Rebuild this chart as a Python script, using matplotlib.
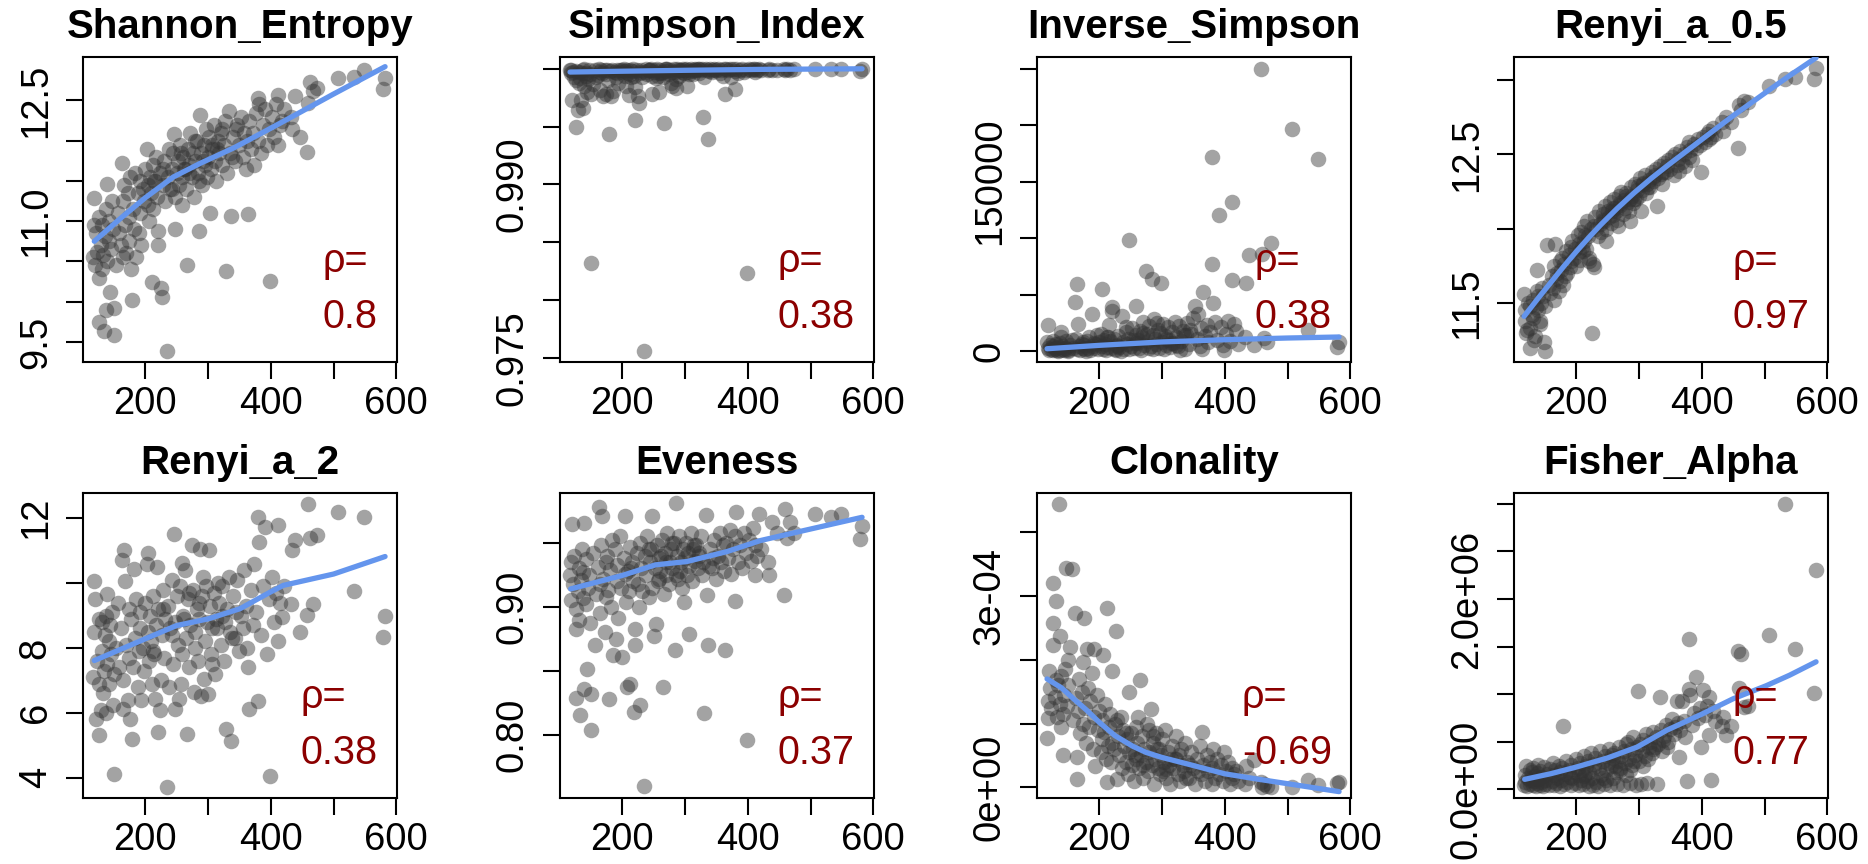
import matplotlib
matplotlib.use("Agg")
import matplotlib.pyplot as plt

plt.rcParams['font.family'] = ['Liberation Sans', 'DejaVu Sans']

# shared x (one value per sample), rows of ten
x_vals = [
    117, 118, 119, 120, 122, 124, 126, 127, 127, 129,
    131, 132, 133, 134, 136, 137, 138, 139, 140, 142,
    143, 144, 146, 147, 149, 150, 151, 154, 156, 158,
    161, 163, 164, 165, 167, 168, 170, 172, 174, 175,
    176, 178, 179, 180, 182, 184, 186, 188, 190, 191,
    192, 194, 196, 198, 200, 203, 204, 205, 206, 208,
    210, 211, 212, 213, 215, 217, 219, 220, 221, 223,
    225, 226, 228, 230, 232, 234, 236, 238, 240, 242,
    244, 246, 247, 248, 250, 252, 254, 256, 258, 259,
    261, 263, 265, 266, 268, 270, 272, 274, 276, 278,
    280, 282, 284, 285, 287, 289, 291, 293, 295, 297,
    298, 300, 302, 303, 305, 307, 309, 311, 313, 316,
    318, 320, 322, 325, 327, 329, 330, 333, 335, 337,
    340, 343, 346, 349, 352, 355, 358, 360, 362, 364,
    366, 368, 371, 374, 377, 379, 380, 382, 385, 388,
    391, 394, 397, 399, 402, 405, 408, 411, 412, 415,
    418, 421, 432, 434, 439, 446, 458, 460, 462, 468,
    214, 229, 243, 257, 269, 279, 292, 306, 323, 338,
    473, 507, 532, 549, 578, 582, 262, 286, 314, 345,
]

shannon = [
    10.55, 10.95, 11.29, 10.45, 10.85, 10.62, 10.30, 9.75, 11.05, 10.70,
    10.95, 10.40, 10.58, 9.63, 10.82, 11.15, 9.89, 11.46, 10.50, 10.75,
    11.00, 10.12, 10.65, 11.25, 10.90, 9.58, 9.92, 10.45, 11.10, 10.85,
    10.70, 11.72, 11.25, 10.55, 11.45, 10.95, 10.60, 11.35, 11.05, 10.75,
    11.55, 10.40, 10.02, 11.15, 10.90, 11.60, 10.55, 11.35, 10.85, 11.50,
    11.10, 10.70, 11.40, 11.25, 11.65, 11.90, 11.20, 11.45, 11.00, 11.55,
    11.35, 10.24, 11.70, 11.15, 11.50, 11.80, 11.30, 10.88, 10.71, 11.60,
    10.17, 10.06, 11.45, 11.75, 11.25, 9.39, 11.55, 11.90, 11.40, 11.65,
    11.85, 12.08, 11.30, 10.90, 11.60, 11.75, 11.45, 11.95, 11.55, 11.20,
    11.80, 11.65, 11.40, 10.46, 11.90, 11.70, 12.10, 11.55, 11.85, 11.30,
    11.75, 12.00, 11.60, 10.88, 12.32, 11.85, 11.45, 11.95, 11.70, 12.15,
    11.55, 11.80, 12.05, 11.10, 11.65, 11.90, 12.20, 11.75, 11.50, 12.00,
    11.85, 12.10, 11.70, 11.95, 12.25, 10.38, 11.60, 12.37, 11.85, 11.07,
    12.05, 11.75, 12.20, 11.95, 12.30, 11.80, 12.10, 11.65, 12.00, 11.09,
    12.25, 11.90, 12.10, 11.70, 12.35, 12.53, 12.00, 12.45, 11.85, 12.20,
    12.40, 11.95, 12.15, 10.26, 12.30, 12.05, 12.45, 11.95, 12.57, 12.20,
    12.25, 12.40, 12.30, 12.14, 12.55, 12.04, 11.86, 12.47, 12.73, 12.62,
    11.50, 11.65, 11.40, 11.85, 11.60, 12.00, 11.75, 11.95, 12.15, 11.80,
    12.66, 12.78, 12.79, 12.88, 12.64, 12.78, 11.65, 11.50, 11.90, 12.15,
]

simpson = [
    0.99985, 0.99960, 0.99990, 0.99727, 0.99975, 0.99930, 0.99900, 0.99495, 0.99980, 0.99640,
    0.99970, 0.99880, 0.99920, 0.99730, 0.99960, 0.99990, 0.99660, 0.99995, 0.99850, 0.99940,
    0.99965, 0.99800, 0.99910, 0.99990, 0.99950, 0.98323, 0.99780, 0.99870, 0.99985, 0.99930,
    0.99945, 0.99995, 0.99975, 0.99820, 0.99990, 0.99960, 0.99760, 0.99985, 0.99950, 0.99780,
    0.99990, 0.99900, 0.99438, 0.99980, 0.99760, 0.99990, 0.99810, 0.99975, 0.99930, 0.99990,
    0.99960, 0.99880, 0.99985, 0.99970, 0.99990, 0.99995, 0.99940, 0.99980, 0.99850, 0.99985,
    0.99960, 0.99770, 0.99990, 0.99950, 0.99980, 0.99995, 0.99940, 0.99559, 0.99840, 0.99985,
    0.99760, 0.99700, 0.99970, 0.99990, 0.99930, 0.97558, 0.99975, 0.99995, 0.99950, 0.99985,
    0.99990, 0.99995, 0.99940, 0.99780, 0.99970, 0.99985, 0.99920, 0.99995, 0.99960, 0.99800,
    0.99985, 0.99970, 0.99930, 0.99530, 0.99995, 0.99980, 0.99995, 0.99950, 0.99990, 0.99880,
    0.99850, 0.99995, 0.99970, 0.99830, 0.99995, 0.99985, 0.99940, 0.99990, 0.99970, 0.99995,
    0.99960, 0.99985, 0.99995, 0.99850, 0.99975, 0.99990, 0.99995, 0.99980, 0.99950, 0.99995,
    0.99985, 0.99995, 0.99960, 0.99990, 0.99995, 0.99582, 0.99930, 0.99995, 0.99985, 0.99394,
    0.99995, 0.99970, 0.99995, 0.99985, 0.99995, 0.99960, 0.99990, 0.99940, 0.99995, 0.99777,
    0.99995, 0.99985, 0.99995, 0.99930, 0.99995, 0.99826, 0.99980, 0.99995, 0.99960, 0.99990,
    0.99995, 0.99975, 0.99990, 0.98234, 0.99995, 0.99985, 0.99995, 0.99970, 0.99995, 0.99990,
    0.99995, 0.99985, 0.99990, 0.99995, 0.99990, 0.99985, 0.99995, 0.99990, 0.99995, 0.99985,
    0.99930, 0.99960, 0.99985, 0.99940, 0.99995, 0.99970, 0.99990, 0.99950, 0.99995, 0.99980,
    0.99995, 0.99995, 0.99995, 0.99995, 0.99980, 0.99995, 0.99960, 0.99910, 0.99985, 0.99990,
]

inv_simpson = [
    8000, 22700, 3000, 1000, 5000, 2000, 9000, 500, 4000, 1500,
    6000, 2500, 800, 400, 3500, 7000, 600, 12000, 16800, 2000,
    4500, 700, 3000, 8500, 1500, 300, 900, 5000, 10000, 2500,
    43400, 11000, 59000, 2000, 23600, 4500, 1200, 6500, 3000, 8000,
    5500, 1500, 300, 9000, 2500, 12000, 1000, 33000, 4000, 7000,
    3000, 6000, 14000, 2000, 8000, 15000, 55200, 4500, 1500, 10000,
    6500, 700, 12500, 3500, 22700, 9000, 2500, 39000, 35400, 11000,
    1500, 800, 5000, 13000, 3500, 200, 30700, 8000, 2000, 17000,
    6000, 11000, 98000, 1500, 4500, 20000, 9500, 3000, 14000, 39500,
    7500, 2500, 18000, 1000, 12000, 26000, 5000, 70800, 15000, 9000,
    22000, 4000, 64000, 1500, 28000, 11000, 6500, 19000, 3000, 16000,
    60200, 8000, 24000, 2000, 13000, 5000, 21000, 10000, 3500, 17000,
    7000, 26000, 12000, 4500, 22000, 1000, 9000, 18000, 14000, 1500,
    25000, 6000, 15000, 29000, 39500, 11000, 33000, 4000, 20000, 2000,
    52200, 13000, 23000, 8000, 17000, 77300, 171800, 42800, 26000, 10000,
    120100, 21000, 5000, 500, 15000, 27000, 9000, 62600, 131900, 24000,
    18000, 6500, 12400, 60200, 84700, 5000, 250000, 86200, 11800, 8000,
    12000, 4000, 21000, 7000, 16000, 3000, 25000, 11000, 5000, 14000,
    95600, 196300, 18300, 170300, 3500, 8000, 10000, 14000, 7000, 19000,
]

renyi_05 = [
    11.56, 11.45, 11.38, 11.30, 11.32, 11.50, 11.20, 11.33, 11.48, 11.42,
    11.52, 11.40, 11.25, 11.28, 11.47, 11.58, 11.72, 11.45, 11.55, 11.38,
    11.36, 11.50, 11.60, 11.55, 11.24, 11.48, 11.18, 11.89, 11.62, 11.57,
    11.68, 11.60, 11.75, 11.52, 11.90, 11.66, 11.70, 11.58, 11.78, 11.65,
    11.72, 11.80, 11.62, 11.76, 11.68, 11.85, 11.70, 11.82, 11.74, 11.88,
    11.78, 11.92, 11.80, 11.86, 11.75, 11.96, 11.84, 11.90, 11.79, 11.98,
    11.88, 11.85, 12.02, 11.92, 11.86, 12.05, 11.95, 11.80, 11.78, 12.00,
    11.30, 11.76, 11.74, 12.08, 12.00, 11.95, 12.12, 12.03, 11.98, 12.10,
    12.05, 12.15, 11.92, 12.00, 12.12, 12.08, 12.18, 12.04, 12.14, 12.09,
    12.20, 12.12, 12.06, 12.02, 12.22, 12.16, 12.25, 12.10, 12.19, 12.14,
    12.24, 12.18, 12.12, 12.05, 12.28, 12.22, 12.17, 12.30, 12.20, 12.26,
    12.29, 12.22, 12.34, 12.12, 12.26, 12.31, 12.36, 12.24, 12.30, 12.33,
    12.28, 12.38, 12.32, 12.36, 12.40, 12.15, 12.34, 12.42, 12.37, 12.30,
    12.44, 12.38, 12.46, 12.40, 12.48, 12.36, 12.50, 12.43, 12.47, 12.39,
    12.52, 12.45, 12.50, 12.42, 12.55, 12.58, 12.48, 12.53, 12.46, 12.57,
    12.54, 12.60, 12.56, 12.38, 12.62, 12.58, 12.64, 12.60, 12.66, 12.62,
    12.68, 12.64, 12.72, 12.66, 12.75, 12.72, 12.54, 12.83, 12.80, 12.86,
    11.96, 12.02, 12.06, 12.12, 12.17, 12.22, 12.20, 12.30, 12.35, 12.38,
    12.85, 12.96, 13.01, 13.02, 13.01, 13.08, 12.14, 12.20, 12.28, 12.42,
]

renyi_2 = [
    7.1, 8.5, 10.05, 9.51, 5.82, 7.6, 8.9, 5.30, 6.9, 6.07,
    7.9, 8.8, 6.6, 7.3, 8.4, 9.0, 6.0, 9.65, 7.5, 8.2,
    6.9, 8.7, 7.8, 9.1, 6.23, 4.10, 7.2, 8.0, 9.4, 7.4,
    8.6, 10.70, 7.0, 6.12, 11.03, 10.08, 8.1, 6.4, 9.2, 7.7,
    5.82, 8.9, 5.20, 7.4, 10.42, 8.3, 9.5, 6.8, 7.9, 8.6,
    9.1, 6.38, 8.0, 7.3, 9.4, 10.6, 8.5, 10.93, 7.6, 9.0,
    8.2, 6.9, 9.6, 7.9, 6.43, 8.7, 10.49, 5.41, 9.2, 6.07,
    7.0, 8.4, 9.8, 7.7, 8.9, 3.71, 9.3, 6.8, 8.6, 10.1,
    7.5, 11.52, 8.8, 6.12, 9.6, 8.1, 6.43, 9.9, 10.61, 7.8,
    9.0, 10.39, 8.3, 5.35, 9.5, 7.4, 8.7, 11.18, 9.8, 6.64,
    8.5, 9.2, 7.6, 8.9, 11.05, 6.53, 9.6, 7.05, 8.2, 9.9,
    8.8, 6.59, 11.02, 9.3, 7.8, 8.6, 9.7, 7.2, 8.9, 10.0,
    9.4, 8.1, 9.9, 7.6, 8.8, 5.51, 9.2, 10.2, 8.5, 5.12,
    9.6, 8.3, 10.1, 7.9, 9.0, 8.6, 10.4, 9.3, 8.0, 7.41,
    6.12, 9.8, 8.7, 10.6, 9.1, 6.35, 12.05, 11.28, 8.4, 9.9,
    11.72, 7.82, 9.5, 4.05, 10.2, 8.8, 9.7, 8.2, 11.79, 9.4,
    8.95, 9.9, 9.36, 11.03, 11.34, 8.49, 9.02, 12.44, 11.38, 9.36,
    7.8, 9.2, 8.4, 6.9, 9.7, 8.0, 10.2, 7.5, 9.0, 8.3,
    11.47, 12.18, 9.77, 12.05, 8.33, 9.0, 8.9, 9.4, 8.6, 9.1,
]

eveness = [
    0.925, 0.905, 0.935, 0.965, 0.918, 0.940, 0.898, 0.829, 0.883, 0.912,
    0.930, 0.890, 0.8156, 0.921, 0.945, 0.907, 0.927, 0.836, 0.9656, 0.902,
    0.937, 0.8516, 0.915, 0.925, 0.887, 0.804, 0.8315, 0.942, 0.8698, 0.910,
    0.931, 0.978, 0.918, 0.895, 0.948, 0.971, 0.922, 0.880, 0.935, 0.908,
    0.940, 0.913, 0.8276, 0.929, 0.900, 0.952, 0.8625, 0.945, 0.875, 0.920,
    0.933, 0.891, 0.955, 0.915, 0.8607, 0.938, 0.926, 0.9714, 0.904, 0.837,
    0.928, 0.912, 0.947, 0.840, 0.935, 0.920, 0.8177, 0.8698, 0.8828, 0.942,
    0.918, 0.900, 0.950, 0.930, 0.912, 0.7596, 0.940, 0.925, 0.955, 0.908,
    0.935, 0.945, 0.915, 0.9714, 0.877, 0.930, 0.8867, 0.948, 0.922, 0.938,
    0.928, 0.952, 0.837, 0.910, 0.942, 0.925, 0.958, 0.918, 0.935, 0.945,
    0.930, 0.950, 0.866, 0.981, 0.940, 0.922, 0.955, 0.935, 0.915, 0.945,
    0.9036, 0.938, 0.950, 0.925, 0.942, 0.932, 0.958, 0.920, 0.945, 0.936,
    0.948, 0.930, 0.940, 0.955, 0.925, 0.935, 0.817, 0.972, 0.9089, 0.8698,
    0.945, 0.930, 0.952, 0.922, 0.940, 0.958, 0.935, 0.948, 0.928, 0.8659,
    0.950, 0.938, 0.960, 0.926, 0.945, 0.9042, 0.955, 0.9745, 0.935, 0.948,
    0.930, 0.958, 0.942, 0.796, 0.952, 0.936, 0.962, 0.925, 0.948, 0.940,
    0.9727, 0.945, 0.935, 0.925, 0.966, 0.958, 0.909, 0.9766, 0.9536, 0.9667,
    0.930, 0.8234, 0.945, 0.920, 0.935, 0.950, 0.928, 0.879, 0.942, 0.932,
    0.958, 0.9727, 0.970, 0.9727, 0.953, 0.963, 0.940, 0.925, 0.948, 0.938,
]

# clonality in units of 1e-4
clonality = [
    0.77, 1.35, 1.08, 1.82, 1.55, 1.25, 2.23, 3.21, 2.58, 1.41,
    1.69, 2.93, 1.10, 1.60, 4.45, 2.38, 1.30, 0.94, 1.75, 1.15,
    0.50, 1.45, 1.85, 3.44, 1.28, 1.60, 1.99, 2.20, 3.43, 1.05,
    2.74, 1.40, 0.13, 0.47, 1.20, 1.70, 0.85, 1.50, 1.00, 1.97,
    2.66, 1.25, 0.70, 2.17, 1.55, 0.95, 1.35, 1.80, 0.60, 1.10,
    2.17, 0.34, 1.44, 0.90, 1.20, 0.55, 1.05, 0.75, 2.08, 0.86,
    1.30, 0.45, 2.82, 0.08, 0.95, 1.15, 0.40, 0.70, 1.82, 0.60,
    1.00, 2.46, 0.13, 0.80, 0.50, 1.10, 0.30, 0.90, 0.65, 0.40,
    0.75, 0.20, 0.55, 1.49, 0.85, 0.35, 0.60, 0.10, 0.95, 0.45,
    0.70, 0.30, 1.69, 0.50, 0.80, 0.15, 0.60, 0.40, 1.00, 0.25,
    0.55, 1.23, 0.35, 0.70, 0.05, 0.45, 0.85, 0.30, 0.60, 0.20,
    0.50, 0.75, 0.25, 0.40, 0.90, 0.15, 0.55, 0.35, 0.05, 0.65,
    0.30, 0.45, 0.80, 0.20, 0.50, 0.10, 0.60, 0.35, 0.25, 0.70,
    0.40, 0.15, 0.55, 0.30, 0.05, 0.45, 0.25, 0.65, 0.20, 0.86,
    0.35, 0.10, 0.50, 0.25, 0.40, 0.05, 0.30, 0.60, 0.15, 0.45,
    0.20, 0.35, 0.10, 0.55, 0.25, 0.40, 0.05, 0.30, 0.15, 0.20,
    0.25, 0.10, 0.05, 0.33, 0.15, 0.42, 0.08, 0.00, 0.05, 0.02,
    0.65, 1.05, 0.85, 0.50, 0.35, 0.90, 0.60, 0.28, 0.45, 0.15,
    0.00, 0.00, 0.12, 0.03, 0.06, 0.08, 1.10, 0.80, 0.45, 0.35,
]

# fisher alpha in units of 1e6
fisher = [
    0.05, 0.15, 0.08, 0.25, 0.04, 0.12, 0.20, 0.06, 0.10, 0.18,
    0.05, 0.22, 0.09, 0.14, 0.04, 0.17, 0.07, 0.26, 0.11, 0.05,
    0.19, 0.08, 0.13, 0.04, 0.23, 0.06, 0.10, 0.16, 0.05, 0.21,
    0.09, 0.28, 0.05, 0.15, 0.20, 0.07, 0.12, 0.25, 0.04, 0.18,
    0.10, 0.22, 0.67, 0.06, 0.16, 0.30, 0.08, 0.20, 0.13, 0.05,
    0.26, 0.12, 0.18, 0.07, 0.32, 0.22, 0.05, 0.15, 0.28, 0.10,
    0.20, 0.06, 0.35, 0.14, 0.25, 0.09, 0.30, 0.04, 0.18, 0.38,
    0.12, 0.05, 0.27, 0.33, 0.08, 0.04, 0.22, 0.40, 0.15, 0.30,
    0.06, 0.35, 0.20, 0.10, 0.28, 0.42, 0.05, 0.25, 0.33, 0.12,
    0.38, 0.18, 0.06, 0.30, 0.45, 0.22, 0.35, 0.05, 0.40, 0.28,
    0.15, 0.50, 0.32, 0.07, 0.42, 0.26, 0.55, 0.36, 0.05, 0.45,
    1.03, 0.30, 0.48, 0.06, 0.40, 0.52, 0.35, 0.58, 0.07, 0.45,
    0.50, 0.38, 0.60, 0.44, 0.55, 0.06, 0.48, 0.97, 0.62, 0.40,
    0.56, 0.68, 0.50, 0.63, 0.74, 0.58, 0.66, 0.93, 0.70, 0.34,
    0.62, 0.93, 0.72, 0.55, 0.09, 1.05, 1.575, 0.99, 0.68, 0.80,
    1.18, 0.75, 0.85, 0.44, 1.04, 0.78, 0.88, 0.57, 0.97, 0.10,
    0.82, 0.72, 0.67, 0.76, 0.57, 0.67, 1.45, 1.06, 1.42, 0.86,
    0.16, 0.24, 0.12, 0.36, 0.20, 0.48, 0.30, 0.25, 0.42, 0.52,
    0.88, 1.62, 3.00, 1.47, 1.01, 2.31, 0.25, 0.20, 0.32, 0.45,
]

# smoothed (lowess) curves
sh_lx = [119, 160, 200, 245, 288, 341, 394, 425, 500, 582]
sh_ly = [10.75, 11.03, 11.29, 11.55, 11.72, 11.91, 12.13, 12.26, 12.58, 12.92]
si_lx = [117, 200, 300, 420, 582]
si_ly = [0.99971, 0.99978, 0.99986, 0.99994, 0.99999]
is_lx = [117, 200, 299, 400, 500, 582]
is_ly = [2000, 5000, 8000, 10000, 11500, 12400]
r05_lx = [117, 140, 160, 180, 200, 220, 240, 265, 292, 320, 344, 372,
          400, 450, 503, 540, 582]
r05_ly = [11.41, 11.535, 11.64, 11.745, 11.845, 11.94, 12.03, 12.135,
          12.24, 12.34, 12.42, 12.51, 12.6, 12.76, 12.92, 13.03, 13.15]
r2_lx = [119, 200, 250, 301, 351, 399, 420, 500, 582]
r2_ly = [7.61, 8.28, 8.69, 8.90, 9.21, 9.72, 9.93, 10.28, 10.82]
ev_lx = [118, 200, 253, 303, 367, 420, 489, 582]
ev_ly = [0.914, 0.9245, 0.9328, 0.9354, 0.9432, 0.9518, 0.9596, 0.970]
cl_lx = [117, 140, 159, 180, 200, 225, 254, 275, 299, 350, 400, 450, 503, 582]
cl_ly = [1.70, 1.56, 1.39, 1.21, 1.02, 0.81, 0.64, 0.545, 0.47, 0.34, 0.21,
         0.13, 0.05, -0.07]
fa_lx = [118, 160, 200, 250, 297, 344, 400, 450, 503, 540, 582]
fa_ly = [0.105, 0.165, 0.234, 0.33, 0.444, 0.62, 0.79, 0.952, 1.09, 1.20, 1.34]

titles = ["Shannon_Entropy", "Simpson_Index", "Inverse_Simpson", "Renyi_a_0.5",
          "Renyi_a_2", "Eveness", "Clonality", "Fisher_Alpha"]
rho = ["0.8", "0.38", "0.38", "0.97", "0.38", "0.37", "-0.69", "0.77"]

x_ticks = [200, 300, 400, 500, 600]
x_labels = ["200", "", "400", "", "600"]

panels = [
    (shannon, sh_lx, sh_ly, (9.25, 13.04),
     [9.5, 10.0, 10.5, 11.0, 11.5, 12.0, 12.5],
     ["9.5", "", "", "11.0", "", "", "12.5"]),
    (simpson, si_lx, si_ly, (0.97465, 1.00101),
     [0.975, 0.980, 0.985, 0.990, 0.995, 1.000],
     ["0.975", "", "", "0.990", "", ""]),
    (inv_simpson, is_lx, is_ly, (-9740, 260300),
     [0, 50000, 100000, 150000, 200000, 250000],
     ["0", "", "", "150000", "", ""]),
    (renyi_05, r05_lx, r05_ly, (11.103, 13.155),
     [11.5, 12.0, 12.5, 13.0], ["11.5", "", "12.5", ""]),
    (renyi_2, r2_lx, r2_ly, (3.37, 12.78),
     [4, 6, 8, 10, 12], ["4", "6", "8", "", "12"]),
    (eveness, ev_lx, ev_ly, (0.7505, 0.989),
     [0.80, 0.85, 0.90, 0.95], ["0.80", "", "0.90", ""]),
    (clonality, cl_lx, cl_ly, (-0.17, 4.62),
     [0, 1, 2, 3, 4], ["0e+00", "", "", "3e-04", ""]),
    (fisher, fa_lx, fa_ly, (-0.091, 3.114),
     [0, 0.5, 1.0, 1.5, 2.0, 2.5, 3.0],
     ["0.0e+00", "", "", "", "2.0e+06", "", ""]),
]

W, H = 1868, 864
AX_LEFT = [83, 560, 1037, 1514]
AX_TOP = [57, 493]
AX_W, AX_H = 314, 305

fig = plt.figure(figsize=(W / 100, H / 100), dpi=100)

for i, (ys, lx, ly, ylim, yt, ytl) in enumerate(panels):
    row, col = divmod(i, 4)
    ax = fig.add_axes([AX_LEFT[col] / W, 1 - (AX_TOP[row] + AX_H) / H,
                       AX_W / W, AX_H / H])
    ax.scatter(x_vals, ys, s=125, c='#333333', alpha=0.45, linewidths=0,
               zorder=2)
    ax.plot(lx, ly, color='#6495ED', lw=3.8, solid_capstyle='round',
            zorder=3)
    ax.set_xlim(101, 601)
    ax.set_ylim(*ylim)
    ax.set_xticks(x_ticks, x_labels)
    ax.set_yticks(yt, ytl, rotation=90, va='center')
    ax.tick_params(length=12, width=1.5, labelsize=27.5)
    ax.tick_params(axis='x', pad=5)
    ax.tick_params(axis='y', pad=9)
    for s in ax.spines.values():
        s.set_linewidth(1.5)
    ax.set_title(titles[i], fontsize=29, fontweight='bold', pad=13.5)
    ax.annotate("\u03c1=\n" + rho[i], xy=(1, 0), xycoords='axes fraction',
                xytext=(-13.7, 18.5), textcoords='offset points',
                ha='right', va='bottom', multialignment='left',
                linespacing=1.6, fontsize=28.5, color='#8B0000', zorder=4)

fig.savefig("out.png", dpi=100)
